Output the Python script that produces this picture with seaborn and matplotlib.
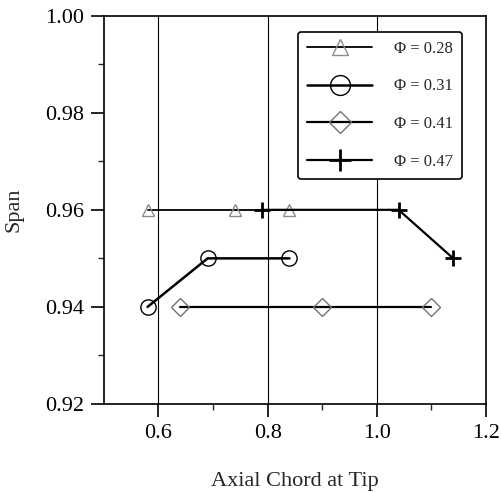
import numpy as np
import pandas as pd
import matplotlib
matplotlib.use("Agg")
import matplotlib.pyplot as plt
import seaborn as sns

# dados
phi_labels = ["Φ = 0.28", "Φ = 0.31", "Φ = 0.41", "Φ = 0.47"]
x_028 = [0.58, 0.74, 0.84]
y_028 = [0.96, 0.96, 0.96]
x_031 = [0.58, 0.69, 0.84]
y_031 = [0.94, 0.95, 0.95]
x_041 = [0.64, 0.90, 1.10]
y_041 = [0.94, 0.94, 0.94]
x_047 = [0.79, 1.04, 1.14]
y_047 = [0.96, 0.96, 0.95]

series = [(x_028, y_028), (x_031, y_031), (x_041, y_041), (x_047, y_047)]
estilos = [
    dict(marker="^", ms=9, mec="0.55", mew=1.0, lw=1.3),
    dict(marker="o", ms=11, mec="black", mew=1.0, lw=1.8),
    dict(marker="D", ms=9, mec="0.45", mew=1.0, lw=1.6),
    dict(marker="+", ms=12, mec="black", mew=2.0, lw=1.6),
]

sns.set_style("ticks")
plt.rcParams["font.family"] = ["Liberation Serif", "DejaVu Serif"]

fig = plt.figure(figsize=(5.02, 4.92), dpi=100)
ax = fig.add_axes([0.207, 0.179, 0.761, 0.789])

for (xs, ys), lab, st in zip(series, phi_labels, estilos):
    df = pd.DataFrame({"x": xs, "y": ys})
    sns.lineplot(data=df, x="x", y="y", ax=ax, sort=False, color="black",
                 mfc="none", label=lab, **st)

ax.set_xlim(0.5, 1.2)
ax.set_ylim(0.92, 1.00)
ax.set_xticks([0.6, 0.8, 1.0, 1.2])
ax.set_xticklabels(["0.6", "0.8", "1.0", "1.2"])
ax.set_yticks([0.92, 0.94, 0.96, 0.98, 1.00])
ax.set_yticklabels(["0.92", "0.94", "0.96", "0.98", "1.00"])
ax.set_xticks([0.7, 0.9, 1.1], minor=True)
ax.set_yticks([0.93, 0.95, 0.97, 0.99], minor=True)
ax.tick_params(which="major", direction="out", length=9.5, width=1.2, pad=5,
               labelsize=16, colors="black")
ax.tick_params(which="minor", direction="out", length=4.5, width=1.0)
for s in ax.spines.values():
    s.set_visible(True)
    s.set_linewidth(1.2)
    s.set_color("black")

for gx in [0.6, 0.8, 1.0]:
    ax.axvline(gx, color="black", lw=0.8, zorder=0)

ax.set_xlabel("Axial Chord at Tip", fontsize=16, labelpad=21)
ax.set_ylabel("Span", fontsize=16, labelpad=15)

leg = ax.legend(loc="upper left", bbox_to_anchor=(0.508, 0.959), fontsize=12,
                frameon=True, fancybox=True, edgecolor="black", handlelength=3.9,
                labelspacing=1.3, borderpad=0.55, borderaxespad=0, handletextpad=1.3,
                markerscale=1.3)
leg.get_frame().set_linewidth(1.2)
leg.get_frame().set_alpha(1)

fig.savefig("out.png", dpi=100)
